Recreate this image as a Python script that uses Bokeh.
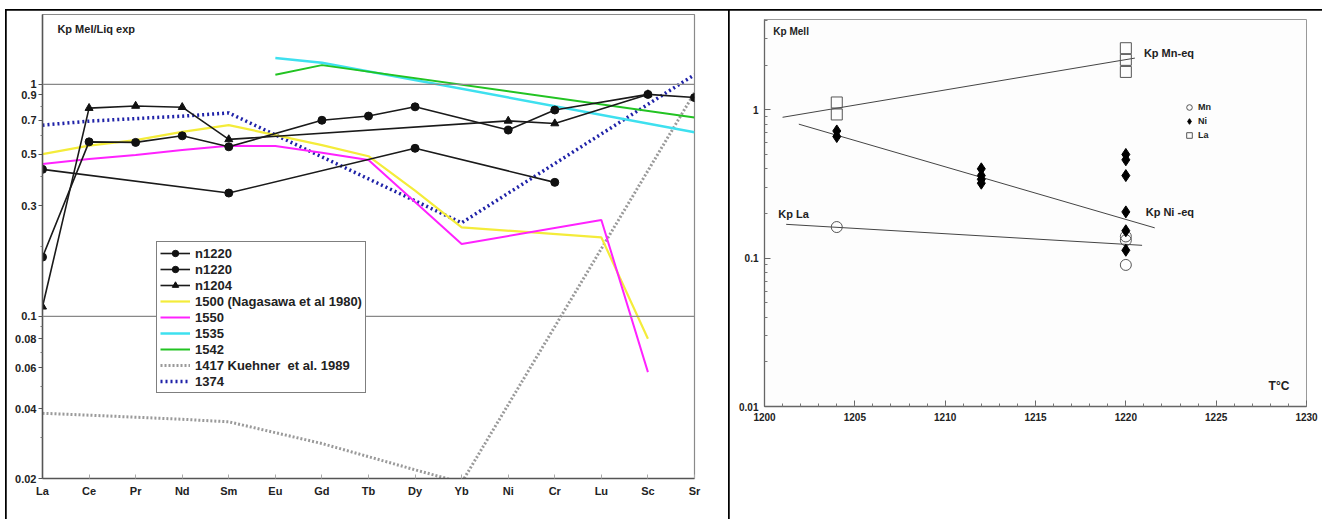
from bokeh.plotting import figure
from bokeh.models import (Range1d, FixedTicker, CustomJSTickFormatter, Span, Legend,
                          LegendItem, Label)
from bokeh.embed import file_html
from bokeh.resources import INLINE

N = None
# ---------------- left chart data ----------------
categories = ["La", "Ce", "Pr", "Nd", "Sm", "Eu", "Gd", "Tb", "Dy", "Yb", "Ni", "Cr", "Lu", "Sc", "Sr"]
n1220_a = [0.43, N, N, N, 0.34, N, N, N, 0.53, N, N, 0.378, N, N, N]
n1220_b = [0.18, 0.565, 0.562, 0.60, 0.538, N, 0.70, 0.73, 0.80, N, 0.635, 0.775, N, 0.905, 0.877]
n1204 = [0.11, 0.79, 0.807, 0.797, 0.579, N, N, N, N, N, 0.696, 0.678, N, 0.905, N]
s1500 = [0.50, 0.544, 0.575, 0.624, 0.667, 0.604, 0.547, 0.49, 0.348, 0.242, N, N, 0.219, 0.080, N]
s1550 = [0.454, 0.477, 0.496, 0.521, 0.544, 0.542, 0.507, 0.472, 0.311, 0.205, N, N, 0.26, 0.0575, N]
s1535 = [N, N, N, N, N, 1.30, 1.24, N, N, N, N, N, N, N, 0.621]
s1542 = [N, N, N, N, N, 1.10, 1.21, N, N, N, N, N, N, N, 0.72]
s1417 = [0.0382, 0.0375, N, 0.036, 0.0351, N, 0.0283, N, 0.0218, 0.0192, N, N, N, N, 0.92]
s1374 = [0.667, 0.694, 0.712, 0.729, 0.753, N, N, N, N, 0.253, N, N, N, N, 1.10]
left_y_ticks = [0.02, 0.04, 0.06, 0.08, 0.1, 0.3, 0.5, 0.7, 0.9, 1]
left_y_minor = [0.03, 0.05, 0.07, 0.09, 0.2, 0.4, 0.6, 0.8]

# ---------------- right chart data ----------------
mn_T = [1204, 1220, 1220, 1220]
mn_v = [0.162, 0.14, 0.132, 0.09]
ni_T = [1204, 1204, 1212, 1212, 1212, 1212, 1220, 1220, 1220, 1220, 1220, 1220]
ni_v = [0.72, 0.66, 0.40, 0.36, 0.34, 0.32, 0.50, 0.46, 0.36, 0.205, 0.153, 0.113]
la_T = [1204, 1204, 1220, 1220, 1220]
la_v = [1.12, 0.93, 2.6, 2.17, 1.8]
fit_mn_T = [1201.0, 1220.5]
fit_mn_v = [0.89, 2.23]
fit_ni_T = [1201.9, 1221.6]
fit_ni_v = [0.80, 0.16]
fit_la_T = [1201.2, 1220.9]
fit_la_v = [0.169, 0.122]
right_x_ticks = [1200, 1205, 1210, 1215, 1220, 1225, 1230]
right_y_ticks = [0.01, 0.1, 1]

FONT = "Liberation Sans"


def pts(vals):
    xs, ys = [], []
    for i, v in enumerate(vals):
        if v is not None:
            xs.append(i)
            ys.append(v)
    return xs, ys


# ================= LEFT FIGURE =================
p1 = figure(width=723, height=512, y_axis_type="log",
            x_range=Range1d(0, len(categories) - 1), y_range=Range1d(0.02, 2.0),
            output_backend="svg", toolbar_location=None,
            min_border_left=36, min_border_right=35, min_border_top=4, min_border_bottom=44)
p1.styles = {"position": "absolute", "left": "6px", "top": "10px",
             "outline": "2.5px solid black", "outline-offset": "-1px"}
p1.xgrid.visible = False
p1.ygrid.visible = False
p1.outline_line_color = "#8a8a8a"
p1.outline_line_width = 1.2
p1.background_fill_color = "white"
p1.border_fill_color = "white"

p1.xaxis.ticker = FixedTicker(ticks=list(range(len(categories))))
p1.xaxis.major_label_overrides = {i: c for i, c in enumerate(categories)}
p1.yaxis.ticker = FixedTicker(ticks=left_y_ticks, minor_ticks=left_y_minor)
p1.yaxis.formatter = CustomJSTickFormatter(code="return tick.toString();")
for ax in (p1.xaxis[0], p1.yaxis[0]):
    ax.axis_line_color = "#555555"
    ax.axis_line_width = 1.5
    ax.major_tick_line_color = "#555555"
    ax.minor_tick_line_color = "#777777"
    ax.major_label_text_font = FONT
    ax.major_label_text_font_style = "bold"
    ax.major_label_text_font_size = "11px"
    ax.major_label_text_color = "#222222"
p1.xaxis.major_tick_in = 4
p1.xaxis.major_tick_out = 0
p1.xaxis.major_tick_line_color = "#aaaaaa"
p1.xaxis.major_label_standoff = 6
p1.yaxis.major_tick_in = 0
p1.yaxis.major_tick_out = 4
p1.yaxis.minor_tick_in = 0
p1.yaxis.minor_tick_out = 2
p1.yaxis.major_label_standoff = 2

for lvl in (1.0, 0.1):
    p1.add_layout(Span(location=lvl, dimension="width", line_color="#888888", line_width=1.2))

x, y = pts(s1417)
r_1417 = p1.line(x, y, line_color="#9a9a9a", line_width=3, line_dash="2 2")
x, y = pts(s1374)
r_1374 = p1.line(x, y, line_color="#1f22a8", line_width=3.5, line_dash="2 3")
x, y = pts(s1535)
r_1535 = p1.line(x, y, line_color="#3ee0ef", line_width=2.5)
x, y = pts(s1542)
r_1542 = p1.line(x, y, line_color="#22c322", line_width=2)
x, y = pts(s1500)
r_1500 = p1.line(x, y, line_color="#f4ec3a", line_width=2.2)
x, y = pts(s1550)
r_1550 = p1.line(x, y, line_color="#ff22ff", line_width=2)

x, y = pts(n1220_a)
la1 = p1.line(x, y, line_color="#1a1a1a", line_width=1.6)
sa1 = p1.scatter(x, y, marker="circle", size=8, fill_color="#111111", line_color="#111111")
x, y = pts(n1220_b)
la2 = p1.line(x, y, line_color="#1a1a1a", line_width=1.6)
sa2 = p1.scatter(x, y, marker="circle", size=8, fill_color="#111111", line_color="#111111")
x, y = pts(n1204)
la3 = p1.line(x, y, line_color="#1a1a1a", line_width=1.6)
sa3 = p1.scatter(x, y, marker="triangle", size=8, fill_color="#111111", line_color="#111111")

items = [
    LegendItem(label="n1220", renderers=[la1, sa1]),
    LegendItem(label="n1220", renderers=[la2, sa2]),
    LegendItem(label="n1204", renderers=[la3, sa3]),
    LegendItem(label="1500 (Nagasawa et al 1980)", renderers=[r_1500]),
    LegendItem(label="1550", renderers=[r_1550]),
    LegendItem(label="1535", renderers=[r_1535]),
    LegendItem(label="1542", renderers=[r_1542]),
    LegendItem(label="1417 Kuehner  et al. 1989", renderers=[r_1417]),
    LegendItem(label="1374", renderers=[r_1374]),
]
leg1 = Legend(items=items, location=(114, 85), padding=3, spacing=0, margin=0,
              label_height=16, glyph_height=16, glyph_width=30, label_standoff=5,
              label_text_font=FONT, label_text_font_style="bold", label_text_font_size="13px",
              label_text_color="#222222", border_line_color="black", border_line_width=1.2,
              background_fill_color="white", background_fill_alpha=1)
p1.add_layout(leg1)

p1.add_layout(Label(x=0.32, y=1.74, text="Kp Mel/Liq exp", text_font=FONT,
                    text_font_style="bold", text_font_size="11px", text_baseline="middle",
                    text_color="#222222"))

# ================= RIGHT FIGURE =================
p2 = figure(width=596, height=512, y_axis_type="log",
            x_range=Range1d(1200, 1230), y_range=Range1d(0.01, 4.06),
            output_backend="svg", toolbar_location=None,
            min_border_left=35, min_border_right=19, min_border_top=9, min_border_bottom=116)
p2.styles = {"position": "absolute", "left": "729px", "top": "10px",
             "outline": "2.5px solid black", "outline-offset": "-1px"}
p2.xgrid.visible = False
p2.ygrid.visible = False
p2.outline_line_color = "#999999"
p2.background_fill_color = "#fdfdfd"
p2.border_fill_color = "white"
p2.xaxis.ticker = FixedTicker(ticks=right_x_ticks, minor_ticks=list(range(1200, 1231)))
p2.yaxis.ticker = FixedTicker(ticks=right_y_ticks,
                              minor_ticks=[0.02, 0.03, 0.04, 0.05, 0.06, 0.07, 0.08, 0.09,
                                           0.2, 0.3, 0.4, 0.5, 0.6, 0.7, 0.8, 0.9, 2, 3, 4])
p2.yaxis.formatter = CustomJSTickFormatter(code="return tick.toString();")
for ax in (p2.xaxis[0], p2.yaxis[0]):
    ax.axis_line_color = "#666666"
    ax.axis_line_width = 1.3
    ax.major_tick_line_color = "#666666"
    ax.minor_tick_line_color = "#777777"
    ax.major_tick_in = 6
    ax.major_tick_out = 0
    ax.minor_tick_in = 3
    ax.minor_tick_out = 0
    ax.major_label_text_font = FONT
    ax.major_label_text_font_style = "bold"
    ax.major_label_text_font_size = "10px"
    ax.major_label_text_color = "#222222"
p2.xaxis.major_label_standoff = 6
p2.yaxis.major_label_standoff = 6

p2.line(fit_mn_T, fit_mn_v, line_color="#444444", line_width=1)
p2.line(fit_ni_T, fit_ni_v, line_color="#444444", line_width=1)
p2.line(fit_la_T, fit_la_v, line_color="#444444", line_width=1)
rc = p2.scatter(mn_T, mn_v, marker="circle", size=11, fill_color=None, line_color="#555555", line_width=1)
rd = p2.scatter(ni_T, ni_v, marker="diamond", size=12, fill_color="black", line_color="black")
rs = p2.scatter(la_T, la_v, marker="square", size=11, fill_color=None, line_color="#555555", line_width=1)

leg2 = Legend(items=[LegendItem(label="Mn", renderers=[rc]),
                     LegendItem(label="Ni", renderers=[rd]),
                     LegendItem(label="La", renderers=[rs])],
              location=(418, 264), padding=0, spacing=0, margin=0,
              label_height=13, glyph_height=14, glyph_width=14, label_standoff=2,
              label_text_font=FONT, label_text_font_style="bold", label_text_font_size="9px",
              label_text_color="#222222", border_line_alpha=0, background_fill_alpha=0)
p2.add_layout(leg2)

for tx, ty, t, fs in [(1200.49, 3.37, "Kp Mell", "10px"),
                      (1221.0, 2.43, "Kp Mn-eq", "11px"),
                      (1221.1, 0.204, "Kp Ni -eq", "11px"),
                      (1200.76, 0.198, "Kp La", "11px"),
                      (1227.9, 0.0137, "T\u00b0C", "12px")]:
    p2.add_layout(Label(x=tx, y=ty, text=t, text_font=FONT, text_font_style="bold",
                        text_font_size=fs, text_baseline="middle", text_color="#222222"))

open("out.html", "w").write(file_html([p1, p2], INLINE))
